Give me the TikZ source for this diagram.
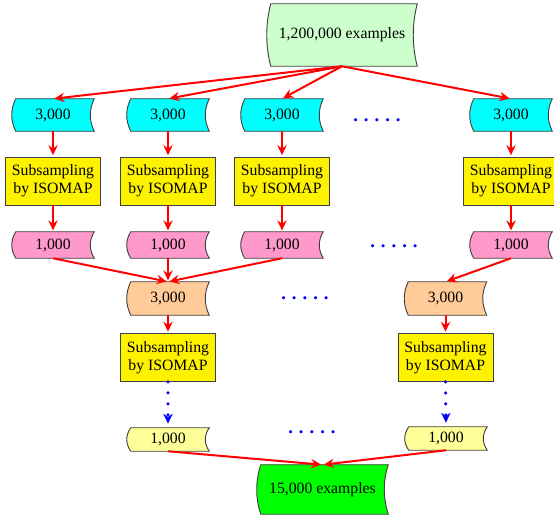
\documentclass[tikz,border=0pt]{standalone}
\usepackage{fontspec}
\setmainfont{Liberation Serif}
\usetikzlibrary{shapes,arrows.meta,backgrounds,calc}

\definecolor{palegreen}{RGB}{204,255,204}
\definecolor{setcyan}{RGB}{0,255,255}
\definecolor{partpink}{RGB}{255,153,204}
\definecolor{mergeorange}{RGB}{255,204,153}
\definecolor{finalyellow}{RGB}{255,255,153}
\definecolor{resultgreen}{RGB}{0,255,0}

\newcommand{\gapdots}{.\hspace{4.5pt}.\hspace{4.5pt}.\hspace{4.5pt}.\hspace{4.5pt}.}

\begin{document}
\begin{tikzpicture}[x=0.75pt,y=-0.75pt]
\tikzstyle{every node}=[font=\fontsize{11.8}{13.5}\selectfont, inner sep=0pt]
\tikzstyle{sample}=[rectangle, minimum width=61.5pt]
\tikzstyle{isomap}=[
	rectangle,
	draw=black!75,
	line width=0.7pt,
	fill=yellow,
	minimum width=71.25pt,
	minimum height=36pt,
	align=center ]
\tikzstyle{more}=[text=blue, font=\fontsize{14}{16}\selectfont\bfseries]
\tikzstyle{outline}=[draw=black!75, line width=0.7pt]
\tikzstyle{flow}=[red, line width=1.5pt, -{Stealth[length=7.5pt,width=7pt,inset=2.5pt]}, shorten >=1pt]
\tikzstyle{iterate}=[blue, line width=2.6pt, line cap=round, dash pattern=on 0pt off 8.25pt,
	-{Stealth[length=7.5pt,width=7pt,inset=2.5pt]}, shorten >=3pt]

\useasboundingbox (0,0) rectangle (554,518);

% all examples
\node[sample, minimum width=112.5pt, minimum height=46.5pt] (full) at (342,35) {1,200,000 examples};

% first pass
\node[sample, minimum height=24pt] (set1) at (53,115) {3,000};
\node[sample, minimum height=24pt] (set2) at (168,115) {3,000};
\node[sample, minimum height=24pt] (set3) at (282,115) {3,000};
\node[sample, minimum height=24pt] (set4) at (511,115) {3,000};
\node[more] (more1) at (377,120) {\gapdots};

\node[isomap] (sub1) at (53,181) {Subsampling\\by ISOMAP};
\node[isomap] (sub2) at (168,181) {Subsampling\\by ISOMAP};
\node[isomap] (sub3) at (282,181) {Subsampling\\by ISOMAP};
\node[isomap] (sub4) at (511,181) {Subsampling\\by ISOMAP};

\node[sample, minimum height=19.5pt] (part1) at (53,245) {1,000};
\node[sample, minimum height=19.5pt] (part2) at (168,245) {1,000};
\node[sample, minimum height=19.5pt] (part3) at (282,245) {1,000};
\node[sample, minimum height=19.5pt] (part4) at (511,245) {1,000};
\node[more] (more2) at (394,246) {\gapdots};

% second pass
\node[sample, minimum height=24.75pt] (merge1) at (168,298.5) {3,000};
\node[sample, minimum height=24.75pt] (merge2) at (445.5,298.5) {3,000};
\node[more] (more3) at (305,298) {\gapdots};

\node[isomap] (resub1) at (168,357.5) {Subsampling\\by ISOMAP};
\node[isomap] (resub2) at (445.5,357.5) {Subsampling\\by ISOMAP};

\node[sample, minimum height=17.25pt] (final1) at (168,439.5) {1,000};
\node[sample, minimum height=17.25pt] (final2) at (446,438.5) {1,000};
\node[more] (more4) at (312,432) {\gapdots};

\node[sample, minimum width=98.25pt, minimum height=36.75pt] (result) at (322.5,489.5) {15,000 examples};

% tape outlines behind the texts
\begin{scope}[on background layer]
\foreach \nd/\col in {full/palegreen, set1/setcyan, set2/setcyan, set3/setcyan, set4/setcyan,
	part1/partpink, part2/partpink, part3/partpink, part4/partpink,
	merge1/mergeorange, merge2/mergeorange, final1/finalyellow, final2/finalyellow, result/resultgreen}
	\draw[outline, fill=\col] let \p1=(\nd.north east), \p2=(\nd.south west), \p3=({0pt},{(\y1-\y2)/3}) in
		(\x2+3pt,\y1) -- (\x1,\y1) .. controls +(-4pt,-\y3) and +(-4pt,\y3) .. (\x1,\y2)
		-- (\x2+3pt,\y2) .. controls +(-4pt,\y3) and +(-4pt,-\y3) .. (\x2+3pt,\y1) -- cycle;
\end{scope}

% connectors
\foreach \i in {1,...,4} {
	\draw[flow] (full.south) -- (set\i.north);
	\draw[flow] (set\i.south) -- (sub\i.north);
	\draw[flow] (sub\i.south) -- (part\i.north);
}
\draw[flow] (part1.south) -- (merge1.north);
\draw[flow] (part2.south) -- (merge1.north);
\draw[flow] (part3.south) -- (merge1.north);
\draw[flow] (part4.south) -- (merge2.north);
\draw[flow] (merge1.south) -- (resub1.north);
\draw[flow] (merge2.south) -- (resub2.north);
\draw[iterate] (resub1.south) -- (final1.north);
\draw[iterate] (resub2.south) -- (final2.north);
\draw[flow] (final1.south) -- (result.north);
\draw[flow] (final2.south) -- (result.north);
\end{tikzpicture}
\end{document}
